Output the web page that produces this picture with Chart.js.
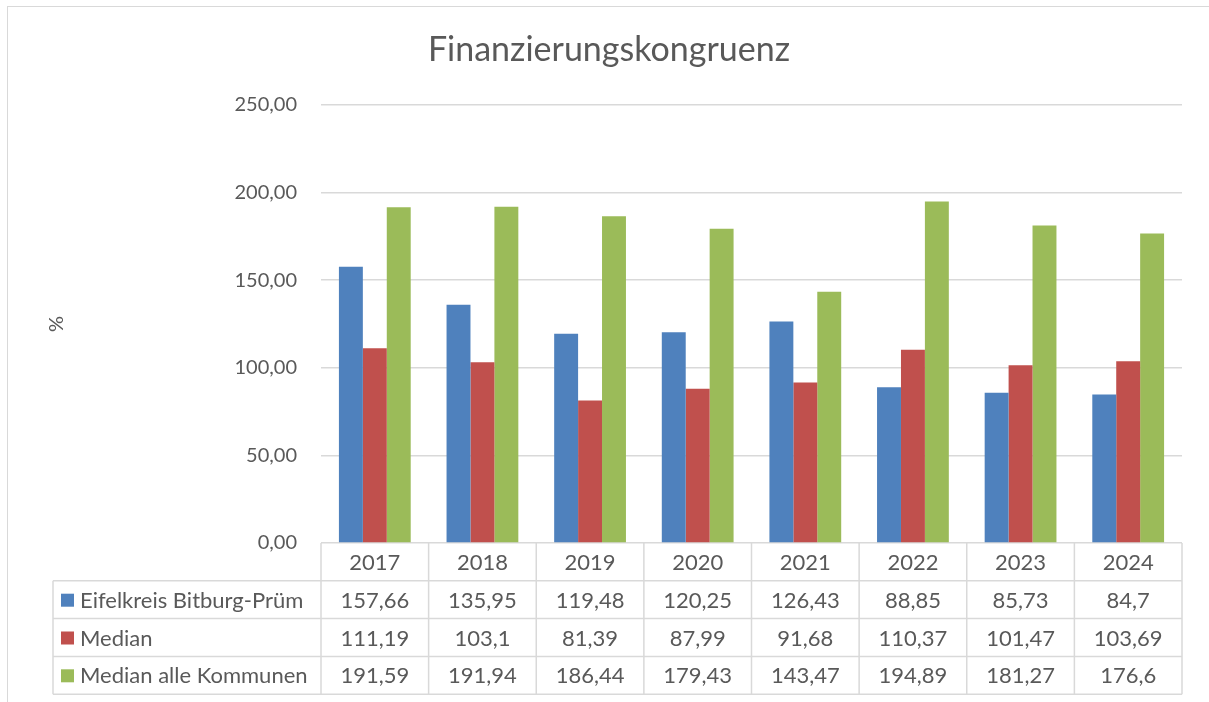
<!DOCTYPE html>
<html lang="de">
<head>
    <meta charset="UTF-8">
    <title>Finanzierungskongruenz</title>
    <style>
        body { margin: 0; background: #fff; font-family: Lato, sans-serif; }
        #wrap { position: relative; width: 1209px; height: 702px; overflow: hidden; }
        #frame { position: absolute; left: 7px; top: 6px; width: 1300px; height: 800px; border: 1px solid #d9d9d9; }
        canvas { position: absolute; left: 0; top: 0; }
    </style>
    <script src="https://cdn.jsdelivr.net/npm/chart.js"></script>
</head>
<body>
<div id="wrap">
    <div id="frame"></div>
    <canvas id="chart" width="1209" height="702"></canvas>
</div>
<script>
    // Jahre und Werte (Finanzierungskongruenz in %)
    const years = ['2017', '2018', '2019', '2020', '2021', '2022', '2023', '2024'];
    const eifelkreis = [157.66, 135.95, 119.48, 120.25, 126.43, 88.85, 85.73, 84.7];
    const median = [111.19, 103.1, 81.39, 87.99, 91.68, 110.37, 101.47, 103.69];
    const medianAlle = [191.59, 191.94, 186.44, 179.43, 143.47, 194.89, 181.27, 176.6];
    const seriesNames = ['Eifelkreis Bitburg-Prüm', 'Median', 'Median alle Kommunen'];
    const seriesColors = ['#4f81bd', '#c0504d', '#9bbb59'];

    const textColor = '#595959';
    const lineColor = '#d9d9d9';

    function fmt(v) {
        return String(v).replace('.', ',');
    }

    // Datentabelle unter dem Diagramm
    const dataTable = {
        id: 'dataTable',
        afterDraw(chart) {
            const ctx = chart.ctx;
            const area = chart.chartArea;
            const x = chart.scales.x;
            const n = years.length;
            const colW = (area.right - area.left) / n;
            const rowH = 37.8;
            const top = area.bottom;
            const tableLeft = 53;

            ctx.save();
            ctx.strokeStyle = lineColor;
            ctx.lineWidth = 1.5;

            // Kopfzeile (nur Datenspalten)
            ctx.beginPath();
            for (let i = 0; i <= n; i++) {
                const cx = area.left + i * colW;
                ctx.moveTo(cx, top);
                ctx.lineTo(cx, top + rowH * 4);
            }
            ctx.moveTo(tableLeft, top + rowH);
            ctx.lineTo(area.right, top + rowH);
            for (let r = 2; r <= 4; r++) {
                ctx.moveTo(tableLeft, top + rowH * r);
                ctx.lineTo(area.right, top + rowH * r);
            }
            ctx.moveTo(tableLeft, top + rowH);
            ctx.lineTo(tableLeft, top + rowH * 4);
            ctx.stroke();

            ctx.fillStyle = textColor;
            ctx.font = '22px Lato';
            ctx.textAlign = 'center';
            ctx.textBaseline = 'middle';
            years.forEach((y, i) => {
                ctx.fillText(y, x.getPixelForValue(i), top + rowH / 2 + 1);
            });

            chart.data.datasets.forEach((ds, r) => {
                const cy = top + rowH * (r + 1) + rowH / 2 + 1;
                ds.data.forEach((v, i) => {
                    ctx.textAlign = 'center';
                    ctx.fillStyle = textColor;
                    ctx.fillText(fmt(v), x.getPixelForValue(i), cy);
                });
                ctx.fillStyle = ds.backgroundColor;
                ctx.fillRect(61, cy - 7, 13, 13);
                ctx.fillStyle = textColor;
                ctx.textAlign = 'left';
                ctx.fillText(ds.label, 80, cy);
            });
            ctx.restore();
        }
    };

    new Chart(document.getElementById('chart'), {
        type: 'bar',
        data: {
            labels: years,
            datasets: [
                { label: seriesNames[0], data: eifelkreis, backgroundColor: seriesColors[0] },
                { label: seriesNames[1], data: median, backgroundColor: seriesColors[1] },
                { label: seriesNames[2], data: medianAlle, backgroundColor: seriesColors[2] }
            ]
        },
        options: {
            responsive: false,
            animation: false,
            layout: { padding: { left: 45, right: 27, top: 105, bottom: 159 } },
            datasets: {
                bar: { barPercentage: 1, categoryPercentage: 0.667 }
            },
            plugins: {
                legend: { display: false },
                tooltip: { enabled: false },
                title: { display: false }
            },
            scales: {
                x: { display: false },
                y: {
                    min: 0,
                    max: 250,
                    ticks: {
                        stepSize: 50,
                        padding: 24,
                        color: textColor,
                        font: { family: 'Lato', size: 20 },
                        callback: v => v.toFixed(2).replace('.', ',')
                    },
                    grid: { color: lineColor, lineWidth: 1.5, drawTicks: false },
                    border: { display: false },
                    title: {
                        display: true,
                        text: '%',
                        color: textColor,
                        font: { family: 'Lato', size: 20 },
                        padding: 0
                    },
                    afterFit(scale) { scale.width = 321 - 45; }
                }
            }
        },
        plugins: [dataTable, {
            id: 'mainTitle',
            afterDraw(chart) {
                const ctx = chart.ctx;
                ctx.save();
                ctx.fillStyle = textColor;
                ctx.font = '34px Lato';
                ctx.textAlign = 'center';
                ctx.textBaseline = 'middle';
                ctx.fillText('Finanzierungskongruenz', 609, 50);
                ctx.restore();
            }
        }]
    });
</script>
</body>
</html>
